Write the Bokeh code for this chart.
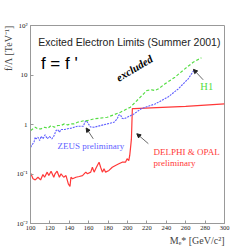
from bokeh.plotting import figure
from bokeh.models import Label, Arrow, NormalHead, FixedTicker, CustomJSTickFormatter, Range1d, Title
from bokeh.embed import file_html
from bokeh.resources import INLINE
import math

# ---------------- data ----------------
red_x = [100.2, 102.6, 104.9, 107.7, 110.4, 112.8, 114.5, 117.2, 118.9, 121.2, 124.0, 125.3,
         127.4, 129.8, 131.5, 134.2, 136.6, 139.0, 140.7, 141.7, 143.4, 146.8, 150.3, 153.6,
         157.0, 158.7, 162.1, 163.8, 165.6, 167.2, 168.9, 170.7, 172.3, 174.1, 175.8, 177.4,
         180.9, 184.3, 187.6, 191.1, 194.5, 197.9, 199.6, 201.3, 202.3, 203.2, 204.0, 204.5,
         205.0, 207.0, 230.0, 260.0, 300.0]
red_y = [0.104, 0.080, 0.076, 0.086, 0.076, 0.098, 0.086, 0.109, 0.093, 0.114, 0.086, 0.101,
         0.114, 0.086, 0.101, 0.086, 0.093, 0.063, 0.056, 0.086, 0.080, 0.086, 0.089, 0.093,
         0.109, 0.101, 0.109, 0.137, 0.109, 0.127, 0.149, 0.173, 0.137, 0.109, 0.127, 0.109,
         0.118, 0.137, 0.149, 0.161, 0.173, 0.173, 0.203, 0.187, 0.237, 0.35, 0.5, 1.0,
         2.1, 2.1, 2.2, 2.32, 2.62]

blue_x = [100.2, 101.5, 103.6, 104.9, 105.9, 107.7, 109.4, 111.0, 112.8, 115.1, 117.2, 119.6,
          122.0, 124.0, 126.4, 128.1, 129.8, 131.5, 134.9, 138.3, 141.7, 145.1, 148.5, 151.9,
          154.6, 156.0, 157.4, 158.7, 161.8, 165.6, 172.3, 179.2, 186.0, 189.4, 191.1, 192.7,
          194.5, 196.2, 199.6, 206.0, 214.5, 228.5, 242.2, 252.4, 262.6, 268.3]
blue_y = [0.348, 0.389, 0.439, 0.554, 0.514, 0.554, 0.475, 0.580, 0.514, 0.619, 0.514, 0.572,
          0.514, 0.580, 0.756, 0.792, 0.699, 0.792, 0.79, 0.819, 0.842, 0.882, 0.924, 0.924,
          0.924, 1.11, 1.2, 1.11, 0.89, 0.88, 0.954, 1.03, 1.11, 1.30, 1.56, 1.57,
          1.34, 1.30, 1.40, 1.6, 2.1, 2.6, 3.63, 5.26, 8.38, 12.3]

green_x = [100.2, 102.6, 104.9, 107.7, 111.0, 114.5, 117.9, 121.2, 124.7, 128.1, 131.5, 134.9,
           138.3, 141.7, 145.1, 148.5, 151.9, 155.4, 158.7, 165.6, 179.2, 192.7, 203.0, 209.8,
           216.6, 220.0, 225.1, 228.5, 232.0, 238.7, 248.9, 259.1, 267.7, 276.2]
green_y = [0.756, 0.819, 0.882, 0.819, 0.819, 0.882, 0.842, 0.954, 0.882, 0.954, 0.954, 1.03,
           0.986, 1.03, 1.03, 1.11, 1.15, 1.20, 1.20, 1.30, 1.40, 1.77, 2.24, 3.05,
           4.17, 4.86, 5.02, 4.86, 5.26, 6.64, 9.03, 13.3, 18.1, 22.3]

x_ticks = [100, 120, 140, 160, 180, 200, 220, 240, 260, 280, 300]
y_ticks = [0.01, 0.1, 1, 10, 100]

# arrows: (x_start, y_start, x_end, y_end)
arrows = [(278.0, 8.0, 268.0, 13.0),
          (164.7, 0.514, 157.4, 0.85),
          (221.5, 0.41, 209.6, 0.65)]

RED = "#ff3838"
BLUE = "#5f5fff"
GREEN = "#55dd44"

p = figure(width=247, height=247, x_range=Range1d(100, 300), y_range=Range1d(0.01, 100),
           y_axis_type="log", output_backend="svg", toolbar_location=None,
           min_border_left=27, min_border_right=23, min_border_top=25, min_border_bottom=24)
p.background_fill_color = "white"
p.border_fill_color = "white"
p.outline_line_color = "#999999"
p.xgrid.visible = False
p.ygrid.visible = False

p.line(red_x, red_y, color=RED, line_width=1.2)
p.line(blue_x, blue_y, color=BLUE, line_width=1.1, line_dash="2 1")
p.line(green_x, green_y, color=GREEN, line_width=1.2, line_dash="3 2")

for ax in (p.xaxis[0], p.yaxis[0]):
    ax.axis_line_color = "#999999"
    ax.major_tick_in = 3
    ax.major_tick_out = 0
    ax.major_tick_line_color = "#999999"
    ax.minor_tick_line_color = None
    ax.major_label_text_font = "Liberation Serif"
    ax.major_label_text_color = "#222222"

p.xaxis.ticker = FixedTicker(ticks=x_ticks)
p.xaxis.major_label_text_font_size = "6.5px"
p.xaxis.major_label_standoff = 2
p.yaxis.ticker = FixedTicker(ticks=y_ticks)
p.yaxis.major_label_text_font_size = "7px"
p.yaxis.major_label_standoff = 3
p.yaxis.formatter = CustomJSTickFormatter(code="""
const e = Math.round(Math.log10(tick));
if (e == 0) return "1";
if (e == 1) return "10";
const sup = {"-2": "\u207b\u00b2", "-1": "\u207b\u00b9", "2": "\u00b2"};
return "10" + sup[String(e)];
""")

# axis titles as side titles (not clipped by the frame)
p.add_layout(Title(text="M\u2091* [GeV/c\u00b2]", align="right", text_font="Liberation Serif",
                   text_font_size="10px", text_font_style="normal", standoff=0, offset=0), "below")
p.add_layout(Title(text="f/\u039b [TeV\u207b\u00b9]", align="right", text_font="Liberation Serif",
                   text_font_size="10px", text_font_style="normal", standoff=0, offset=0), "left")

def lab(x, y, t, size, font="Liberation Serif", color="black", align="left",
        baseline="middle", angle=0.0, style="normal"):
    p.add_layout(Label(x=x, y=y, text=t, text_font=font, text_font_size=size,
                       text_color=color, text_align=align, text_baseline=baseline,
                       angle=angle, text_font_style=style))

lab(108.1, 45.4, "Excited Electron Limits (Summer 2001)", "10.5px", font="Liberation Sans", color="#222222")
lab(110.7, 17.1, "f = f '", "17px", font="Liberation Sans")
lab(207.0, 13.8, "excluded", "11px", align="center", angle=math.radians(31), style="bold italic")
lab(281.7, 5.86, "H1", "10.5px", color=GREEN, align="center")
lab(127.9, 0.36, "ZEUS preliminary", "9px", color=BLUE)
lab(226.9, 0.272, "DELPHI & OPAL", "9px", color=RED)
lab(226.9, 0.163, "preliminary", "9px", color=RED)

for (xs, ys, xe, ye) in arrows:
    p.add_layout(Arrow(x_start=xs, y_start=ys, x_end=xe, y_end=ye, line_color="#444444",
                       line_width=0.8,
                       end=NormalHead(size=4, fill_color="#222222", line_color="#222222")))

open("out.html", "w").write(file_html(p, INLINE))
